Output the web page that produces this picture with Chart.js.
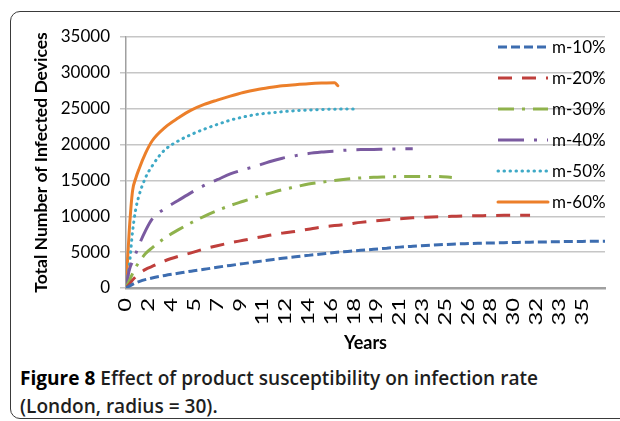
<!DOCTYPE html>
<html>
<head>
<meta charset="utf-8">
<script src="https://cdn.jsdelivr.net/npm/chart.js@4.4.0/dist/chart.umd.min.js"></script>
<style>
  html, body { margin: 0; padding: 0; background: #fff; }
  body { width: 620px; height: 421px; position: relative; overflow: hidden; }
  #frame { position: absolute; left: 10px; top: 11px; width: 640px; height: 406px;
           border: 1.5px solid #3a3a3a; border-radius: 10px; }
  #chart { position: absolute; left: 0; top: 0; }
  #caption { position: absolute; left: 20px; top: 364px; font-family: "Open Sans", sans-serif;
             font-weight: 600; font-size: 20px; line-height: 28px; color: #1e1e1e;
             white-space: nowrap; transform-origin: 0 0; }
  #caption b { color: #000; font-weight: 700; }
</style>
</head>
<body>
<div id="frame"></div>
<canvas id="chart" width="620" height="360"></canvas>
<div id="caption"><span id="line1"><b>Figure 8</b> Effect of product susceptibility on infection rate</span><br>(London, radius = 30).</div>
<script>
// x axis is years in quarter steps, Excel labels every 7th category (1.75 years)
const tickLabels = ["0", "2", "4", "5", "7", "9", "11", "12", "14", "16", "18", "19", "21",
                    "23", "25", "26", "28", "30", "32", "33", "35"];
const tickStep = 1.75;
const xMax = 36.75;
const yTicks = [0, 5000, 10000, 15000, 20000, 25000, 30000, 35000];

const seriesNames = ["m-10%", "m-20%", "m-30%", "m-40%", "m-50%", "m-60%"];

const m10Years = [0, 0.5, 1, 2, 3, 4, 5, 6, 7, 8, 9, 10, 11, 12, 13, 14, 15, 16, 17, 18, 19, 20,
                  21, 22, 23, 24, 25, 26, 27, 28, 29, 30, 31, 32, 33, 34, 35, 36, 36.75];
const m10Values = [0, 500, 900, 1400, 1750, 2050, 2350, 2600, 2900, 3150, 3400, 3650, 3900, 4150,
                   4350, 4550, 4750, 4950, 5100, 5250, 5400, 5550, 5700, 5820, 5930, 6030, 6110,
                   6180, 6240, 6280, 6320, 6360, 6390, 6420, 6450, 6480, 6500, 6520, 6530];

const m20Years = [0, 0.25, 0.5, 1, 1.5, 2, 3, 4, 5, 6, 7, 8, 9, 10, 11, 12, 13, 14, 15, 16, 17,
                  18, 19, 20, 21, 22, 23, 24, 25, 26, 27, 28, 29, 30, 31];
const m20Values = [0, 500, 1100, 2000, 2600, 3000, 3800, 4400, 4900, 5450, 5900, 6300, 6650, 7000,
                   7350, 7650, 7900, 8200, 8500, 8700, 8900, 9150, 9350, 9500, 9650, 9780, 9880,
                   9950, 10000, 10050, 10080, 10110, 10130, 10140, 10140];

const m30Years = [0, 0.25, 0.5, 0.75, 1, 1.5, 2, 3, 4, 5, 6, 7, 8, 9, 10, 11, 12, 13, 14, 15, 16,
                  17, 18, 19, 20, 21, 22, 23, 24, 25];
const m30Values = [0, 1000, 2000, 2900, 3600, 4800, 5600, 7000, 8100, 9100, 10000, 10800, 11500,
                   12100, 12700, 13200, 13700, 14100, 14500, 14750, 15000, 15200, 15350, 15450,
                   15500, 15550, 15560, 15560, 15560, 15400];

const m40Years = [0, 0.25, 0.5, 0.75, 1, 1.5, 2, 3, 4, 5, 6, 7, 8, 9, 10, 11, 12, 13, 14, 15, 16,
                  17, 18, 19, 20, 21, 22];
const m40Values = [0, 2500, 3700, 4800, 6000, 8000, 9600, 11100, 12200, 13300, 14300, 15100, 15900,
                   16500, 17000, 17600, 18100, 18450, 18750, 18950, 19100, 19230, 19300, 19330,
                   19370, 19400, 19400];

const m50Years = [0, 0.25, 0.5, 0.75, 1, 1.5, 2, 2.5, 3, 4, 5, 6, 7, 8, 9, 10, 11, 12, 13, 14,
                  15, 16, 17, 17.75];
const m50Values = [0, 3000, 7800, 11000, 12900, 15400, 17000, 18300, 19300, 20500, 21400, 22150,
                   22800, 23400, 23850, 24200, 24400, 24580, 24720, 24820, 24890, 24930, 24950,
                   24950];

const m60Years = [0, 0.25, 0.5, 0.75, 1, 1.5, 2, 3, 4, 5, 6, 7, 8, 9, 10, 11, 12, 13, 14, 15,
                  16, 16.25];
const m60Values = [0, 8000, 13500, 15300, 16600, 18800, 20500, 22400, 23700, 24800, 25600, 26200,
                   26750, 27250, 27650, 27950, 28200, 28350, 28480, 28570, 28620, 28200];

const seriesYears = [m10Years, m20Years, m30Years, m40Years, m50Years, m60Years];
const seriesValues = [m10Values, m20Values, m30Values, m40Values, m50Values, m60Values];

const colors = ["#3d6db0", "#bf3f3c", "#8fb24c", "#7a5aa0", "#3ea9c6", "#ec7f2a"];
const dashes = [[9, 4], [14, 10], [16, 8, 3, 8], [26, 10, 3, 10], [0.5, 5.5], []];
const caps = ["butt", "butt", "butt", "butt", "round", "round"];

// legend drawn inside the plot, over the gridlines, like the Excel original
const insideLegend = {
  id: "insideLegend",
  afterDraw(chart) {
    const ctx = chart.ctx;
    chart.data.datasets.forEach((ds, i) => {
      const y = 47 + i * 31;
      ctx.save();
      ctx.strokeStyle = ds.borderColor;
      ctx.lineWidth = ds.borderWidth;
      ctx.lineCap = ds.borderCapStyle;
      ctx.setLineDash(ds.borderDash);
      ctx.beginPath();
      ctx.moveTo(498, y);
      ctx.lineTo(548, y);
      ctx.stroke();
      ctx.setLineDash([]);
      ctx.fillStyle = "#000";
      ctx.font = "17px Lato";
      ctx.textBaseline = "middle";
      ctx.fillText(ds.label, 552, y + 1);
      ctx.restore();
    });
  }
};

// the rotated year labels in the original are drawn taller than the other text
const tallXLabels = {
  id: "tallXLabels",
  beforeDraw(chart) {
    const sc = chart.scales.x;
    if (sc._tallPatched) return;
    const orig = sc.drawLabels;
    sc.drawLabels = function (area) {
      const ctx = this.ctx;
      const y0 = this.top + 10;
      ctx.save();
      ctx.translate(0, y0);
      ctx.scale(1, 1.4);
      ctx.translate(0, -y0);
      orig.call(this, area);
      ctx.restore();
    };
    sc._tallPatched = true;
  }
};

function draw() {
  Chart.defaults.font.family = "Lato";
  Chart.defaults.font.size = 17;
  Chart.defaults.color = "#000";

  const datasets = seriesNames.map((name, i) => ({
    label: name,
    data: seriesYears[i].map((x, j) => ({ x: x, y: seriesValues[i][j] })),
    borderColor: colors[i],
    backgroundColor: colors[i],
    borderWidth: 3,
    borderDash: dashes[i],
    borderCapStyle: caps[i],
    pointRadius: 0,
    fill: false,
    cubicInterpolationMode: "monotone"
  }));

  new Chart(document.getElementById("chart"), {
    type: "line",
    data: { datasets: datasets },
    options: {
      responsive: false,
      animation: false,
      layout: { padding: { top: 37, right: 15, left: 31, bottom: 2 } },
      plugins: { legend: { display: false }, tooltip: { enabled: false } },
      scales: {
        x: {
          type: "linear",
          min: 0,
          max: xMax,
          afterBuildTicks: (scale) => {
            scale.ticks = tickLabels.map((t, i) => ({ value: i * tickStep }));
          },
          afterFit: (scale) => { scale.height = 70; },
          ticks: {
            autoSkip: false,
            minRotation: 90,
            maxRotation: 90,
            padding: 10,
            callback: (value, index) => tickLabels[index]
          },
          grid: { display: false, drawTicks: false },
          border: { color: "#a0a0a0", width: 2.5 },
          title: { display: true, text: "Years", font: { weight: "bold", size: 18 },
                   padding: { top: 4, bottom: 4 } }
        },
        y: {
          min: 0,
          max: 35000,
          afterBuildTicks: (scale) => {
            scale.ticks = yTicks.map(v => ({ value: v }));
          },
          afterFit: (scale) => { scale.width = 95; },
          ticks: { padding: 10, callback: (value) => String(value) },
          grid: { color: "#c6c6c6", lineWidth: 1.5, tickLength: 6 },
          border: { color: "#a0a0a0", width: 1.5 },
          title: { display: true, text: "Total Number of Infected Devices",
                   font: { weight: "bold", size: 17.5 }, padding: 0 }
        }
      }
    },
    plugins: [tallXLabels, insideLegend]
  });

  const line1 = document.getElementById("line1");
  const w = line1.getBoundingClientRect().width;
  document.getElementById("caption").style.transform = "scaleX(" + (518 / w) + ")";
}

Promise.all([
  document.fonts.load("17px Lato"),
  document.fonts.load("bold 17px Lato"),
  document.fonts.load("600 20px 'Open Sans'"),
  document.fonts.load("bold 20px 'Open Sans'")
]).then(draw, draw);
</script>
</body>
</html>
